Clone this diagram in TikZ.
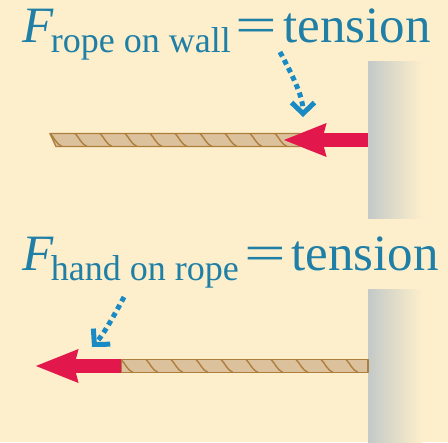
\documentclass[tikz,border=0pt]{standalone}
\usepackage{fontspec}
\setmainfont{Liberation Serif}
\usepackage{graphicx}
\usetikzlibrary{arrows.meta}
\definecolor{PaperCream}{HTML}{FDEFCB}
\definecolor{LabelTeal}{HTML}{1F7FA6}
\definecolor{PointerBlue}{HTML}{1A8AC4}
\definecolor{ForceRed}{HTML}{E2184C}
\definecolor{RopeTan}{HTML}{DCC29C}
\definecolor{RopeEdge}{HTML}{AE7E3E}
\definecolor{WallGray}{HTML}{C3C9C8}
\tikzset{
  tagtext/.style={text=LabelTeal,inner sep=0pt,anchor=base west,
    font=\fontsize{29}{32}\selectfont},
  ropebody/.style={draw=RopeEdge,fill=RopeTan,line width=0.8pt,line join=round},
  ropetwist/.style={draw=RopeEdge,line width=0.8pt},
  forcearrow/.style={draw=ForceRed,line width=0.27cm,
    -{Stealth[length=0.84cm,width=0.62cm,inset=0.06cm]}},
  pointer/.style={draw=PointerBlue,line width=0.1cm,
    dash pattern=on 0.1cm off 0.08cm,
    -{Straight Barb[length=0.22cm,width=0.46cm,line width=0.1cm]}},
  wallshade/.style={left color=WallGray,right color=PaperCream,draw=none},
}
\newcommand{\subtag}[1]{\raisebox{-0.2cm}{\fontsize{20.5}{24}\selectfont #1}}
\newcommand{\wideeq}{\scalebox{1.45}[1]{=}}
\begin{document}
\begin{tikzpicture}[x=0.02cm,y=-0.02cm]
  \fill[PaperCream] (0,0) rectangle (448,442);
  \useasboundingbox (0,0) rectangle (448,442);
  % Walls
  \shade[wallshade] (368,62) rectangle (422,218);
  \shade[wallshade] (368,289) rectangle (422,442);
  % Labels
  \node[tagtext] (tagwall) at (22,43)
    {\textit{F}\hspace{-0.06cm}\subtag{rope on wall}\hspace{0.1cm}\wideeq\hspace{0.12cm}tension};
  \node[tagtext] (taghand) at (22,270)
    {\textit{F}\hspace{-0.06cm}\subtag{hand on rope}\hspace{0.12cm}\wideeq\hspace{0.1cm}tension};
  % Top rope, pulled by the wall
  \coordinate (wallgrip) at (368,140);
  \coordinate (ropeend) at (283,140);
  \draw[ropebody] (50,133.5) -- (300,133.5) -- (300,146.5) -- (56,146.5) -- cycle;
  \foreach \k in {0,...,9}
    \draw[ropetwist] (50+25*\k,133.5) .. controls (54+25*\k,137) and (56+25*\k,144) .. (62+25*\k,146.5);
  \draw[forcearrow] (wallgrip) -- (ropeend);
  % Bottom rope, pulled by the hand
  \coordinate (handgrip) at (121,366);
  \coordinate (handend) at (35,366);
  \draw[ropebody] (121,359.5) -- (368,359.5) -- (368,372.5) -- (121,372.5) -- cycle;
  \foreach \k in {0,...,9}
    \draw[ropetwist] (121+25*\k,359.5) .. controls (125+25*\k,363) and (127+25*\k,370) .. (133+25*\k,372.5);
  \draw[forcearrow] (handgrip) -- (handend);
  % Pointers from labels
  \coordinate (wallfoot) at (280,52);
  \coordinate (walltip) at (303,117);
  \coordinate (handfoot) at (124,297);
  \coordinate (handtip) at (92,347);
  \draw[pointer] (wallfoot) .. controls (291,73) and (303,95) .. (walltip);
  \draw[pointer] (handfoot) .. controls (116,312) and (104,334) .. (handtip);
\end{tikzpicture}
\end{document}
